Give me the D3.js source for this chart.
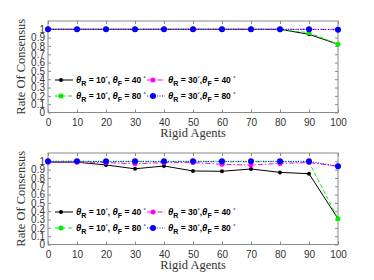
<!DOCTYPE html>
<html>
<head>
<meta charset="utf-8">
<script src="https://cdn.jsdelivr.net/npm/d3@7"></script>
<style>
  body { margin: 0; background: #fff; }
  svg { display: block; }
</style>
</head>
<body>
<div id="chart"></div>
<script>
(function () {
  'use strict';

  // rigid agents on the x axis
  const agents = [0, 10, 20, 30, 40, 50, 60, 70, 80, 90, 100];
  const xTicks = [0, 10, 20, 30, 40, 50, 60, 70, 80, 90, 100];
  const yTicks = [0, 0.1, 0.2, 0.3, 0.4, 0.5, 0.6, 0.7, 0.8, 0.9, 1];

  // upper panel
  const topR10F40 = [1, 1, 1, 1, 1, 1, 1, 1, 1, 0.94, 0.82];
  const topR10F80 = [1, 1, 1, 1, 1, 1, 1, 1, 0.995, 0.96, 0.82];
  const topR30F40 = [1, 1, 1, 1, 1, 1, 1, 1, 1, 1, 1];
  const topR30F80 = [1, 1, 1, 1, 1, 1, 1, 1, 1, 1, 0.995];

  // lower panel
  const botR10F40 = [0.99, 0.99, 0.956, 0.91, 0.944, 0.884, 0.88, 0.908, 0.867, 0.851, 0.31];
  const botR10F80 = [1, 1, 0.995, 0.995, 0.995, 0.995, 0.995, 0.995, 0.995, 0.99, 0.31];
  const botR30F40 = [0.99, 0.99, 0.985, 0.97, 0.985, 0.985, 0.965, 0.955, 0.975, 0.985, 0.94];
  const botR30F80 = [1, 1, 1, 1, 1, 1, 1, 1, 1, 1, 0.94];

  // legend entries
  const thetaR = [10, 30, 10, 30];
  const thetaF = [40, 40, 80, 80];

  const width = 374, height = 280;
  const svg = d3.select('#chart').append('svg')
    .attr('width', width)
    .attr('height', height);

  const styles = [
    { color: '#000000', dash: null, r: 2, width: 1 },
    { color: '#ff00ff', dash: '5,2,1.5,2', r: 2.5, width: 1 },
    { color: '#00ee00', dash: '4,2.5', r: 2.5, width: 1 },
    { color: '#0000ff', dash: '1,1.5', r: 3, width: 1 }
  ];

  drawPanel(21, [topR10F40, topR30F40, topR10F80, topR30F80]);
  drawPanel(153, [botR10F40, botR30F40, botR10F80, botR30F80]);

  function drawPanel(top, series) {
    const left = 48, right = 338, bottom = top + 91.5;

    const x = d3.scaleLinear().domain([0, 100]).range([left, right]);
    const y = d3.scaleLinear().domain([0, 1.1]).range([bottom, top]);

    const g = svg.append('g');

    // box
    g.append('rect')
      .attr('x', left).attr('y', top)
      .attr('width', right - left).attr('height', bottom - top)
      .attr('fill', 'none').attr('stroke', '#8a8a8a').attr('stroke-width', 1);

    const axisStyle = function (sel) {
      sel.select('.domain').remove();
      sel.selectAll('.tick line').attr('stroke', '#8a8a8a');
      sel.selectAll('.tick text')
        .attr('fill', '#333')
        .style('font-family', '"Liberation Sans", Arial, sans-serif')
        .style('font-size', '10px');
    };

    g.append('g')
      .attr('transform', 'translate(0,' + bottom + ')')
      .call(d3.axisBottom(x).tickValues(xTicks).tickSize(-3).tickPadding(6).tickFormat(d3.format('d')))
      .call(axisStyle);
    g.append('g')
      .attr('transform', 'translate(0,' + top + ')')
      .call(d3.axisTop(x).tickValues(xTicks).tickSize(-3).tickFormat(''))
      .call(axisStyle);
    g.append('g')
      .attr('transform', 'translate(' + left + ',0)')
      .call(d3.axisLeft(y).tickValues(yTicks).tickSize(-3).tickPadding(3)
        .tickFormat(function (d) { return d === 0 || d === 1 ? String(d) : d3.format('.1f')(d); }))
      .call(axisStyle);
    g.append('g')
      .attr('transform', 'translate(' + right + ',0)')
      .call(d3.axisRight(y).tickValues(yTicks).tickSize(-3).tickFormat(''))
      .call(axisStyle);

    // axis labels
    g.append('text')
      .attr('x', (left + right) / 2).attr('y', bottom + 24)
      .attr('text-anchor', 'middle')
      .attr('fill', '#333')
      .style('font-family', '"Liberation Serif", "DejaVu Serif", serif')
      .style('font-size', '12.5px')
      .text('Rigid Agents');
    g.append('text')
      .attr('transform', 'translate(25,' + ((top + bottom) / 2) + ') rotate(-90)')
      .attr('text-anchor', 'middle')
      .attr('fill', '#333')
      .style('font-family', '"Liberation Serif", "DejaVu Serif", serif')
      .style('font-size', '12.5px')
      .text('Rate Of Consensus');

    const line = d3.line()
      .x(function (d, i) { return x(agents[i]); })
      .y(function (d) { return y(d); });

    // draw order: black, green, magenta, blue
    [0, 2, 1, 3].forEach(function (k) {
      const st = styles[k];
      g.append('path')
        .datum(series[k])
        .attr('d', line)
        .attr('fill', 'none')
        .attr('stroke', st.color)
        .attr('stroke-width', st.width)
        .attr('stroke-dasharray', st.dash);
      g.selectAll(null)
        .data(series[k])
        .enter()
        .append('circle')
        .attr('cx', function (d, i) { return x(agents[i]); })
        .attr('cy', function (d) { return y(d); })
        .attr('r', st.r)
        .attr('fill', st.color);
    });

    // legend, 2 x 2
    const colX = [55, 147];
    const rowY = [top + 59, top + 75];
    for (let k = 0; k < 4; k++) {
      const st = styles[k];
      const lx = colX[k % 2], ly = rowY[Math.floor(k / 2)];
      const lg = g.append('g');
      lg.append('line')
        .attr('x1', lx).attr('x2', lx + 18)
        .attr('y1', ly).attr('y2', ly)
        .attr('stroke', st.color)
        .attr('stroke-width', st.width)
        .attr('stroke-dasharray', st.dash);
      lg.append('circle')
        .attr('cx', lx + 6).attr('cy', ly).attr('r', st.r)
        .attr('fill', st.color);
      const t = lg.append('text')
        .attr('x', lx + 21).attr('y', ly + 3)
        .attr('fill', '#000')
        .style('font-family', '"Liberation Sans", Arial, sans-serif')
        .style('font-size', '8.5px')
        .style('font-weight', 'bold');
      const sep = k % 2 === 1 ? ',' : ', ';
      t.append('tspan').style('font-style', 'italic').style('font-size', '9.5px').text('θ');
      t.append('tspan').attr('dy', 3).style('font-size', '7px').text('R');
      t.append('tspan').attr('dy', -3).text(' = ' + thetaR[k]);
      t.append('tspan').attr('dy', -3).style('font-size', '5.5px').text('°');
      t.append('tspan').attr('dy', 3).text(sep);
      t.append('tspan').style('font-style', 'italic').style('font-size', '9.5px').text('θ');
      t.append('tspan').attr('dy', 3).style('font-size', '7px').text('F');
      t.append('tspan').attr('dy', -3).text(' = ' + thetaF[k] + ' ');
      t.append('tspan').attr('dy', -3).style('font-size', '5.5px').text('°');
    }
  }
})();
</script>
</body>
</html>
